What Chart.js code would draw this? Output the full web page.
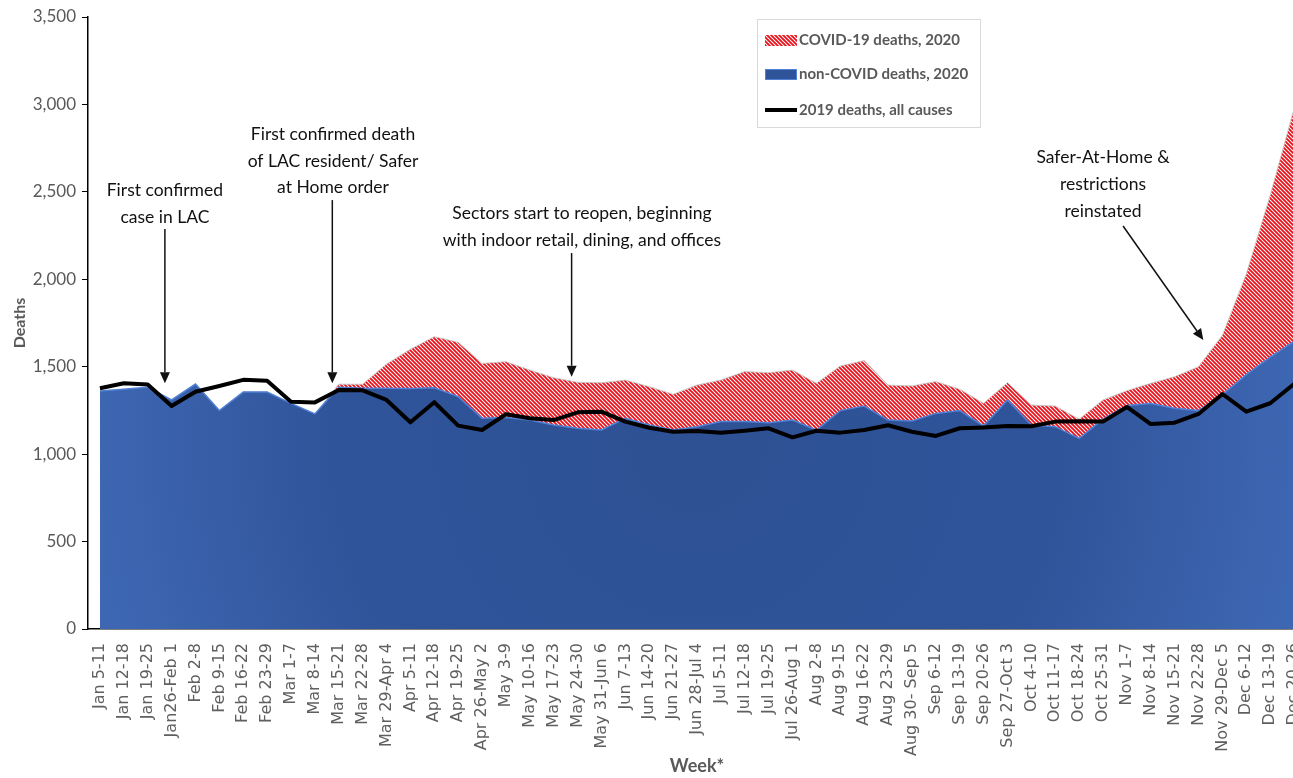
<!DOCTYPE html>
<html><head><meta charset="utf-8">
<script src="https://cdn.jsdelivr.net/npm/chart.js@4.4.0/dist/chart.umd.min.js"></script>
<style>
html,body{margin:0;padding:0;background:#fff;overflow:hidden;width:1293px;height:778px}
#wrap{position:relative;width:1310px;height:778px}
</style></head>
<body><div id="wrap"><canvas id="c" width="1310" height="778"></canvas></div>
<script>
const weeks = ['Jan 5-11','Jan 12-18','Jan 19-25','Jan26-Feb 1','Feb 2-8','Feb 9-15','Feb 16-22','Feb 23-29','Mar 1-7','Mar 8-14','Mar 15-21','Mar 22-28','Mar 29-Apr 4','Apr 5-11','Apr 12-18','Apr 19-25','Apr 26-May 2','May 3-9','May 10-16','May 17-23','May 24-30','May 31-Jun 6','Jun 7-13','Jun 14-20','Jun 21-27','Jun 28-Jul 4','Jul 5-11','Jul 12-18','Jul 19-25','Jul 26-Aug 1','Aug 2-8','Aug 9-15','Aug 16-22','Aug 23-29','Aug 30- Sep 5','Sep 6-12','Sep 13-19','Sep 20-26','Sep 27-Oct 3','Oct 4-10','Oct 11-17','Oct 18-24','Oct 25-31','Nov 1-7','Nov 8-14','Nov 15-21','Nov 22-28','Nov 29-Dec 5','Dec 6-12','Dec 13-19','Dec 20-26'];

const nonCovid2020 = [1361,1371,1382,1310,1401,1249,1355,1355,1290,1230,1382,1377,1377,1376,1380,1329,1205,1210,1195,1167,1148,1138,1205,1167,1138,1157,1186,1186,1180,1195,1138,1249,1275,1195,1190,1233,1249,1161,1310,1167,1157,1090,1200,1278,1290,1262,1249,1340,1455,1555,1645];

const covid2020 = [0,0,0,0,0,0,0,0,0,0,18,23,138,224,292,311,314,319,286,270,263,270,219,219,204,238,238,286,286,286,267,255,260,200,200,182,122,130,99,114,118,110,110,85,115,181,251,340,575,925,1330];

const deaths2019 = [1377,1405,1398,1275,1357,1390,1425,1420,1300,1296,1367,1365,1310,1182,1297,1163,1138,1228,1205,1195,1239,1243,1186,1151,1128,1132,1123,1134,1148,1096,1134,1123,1138,1165,1128,1104,1148,1153,1161,1160,1186,1188,1186,1270,1172,1180,1230,1344,1243,1291,1401];

const seriesLabels = ['non-COVID deaths, 2020','COVID-19 deaths, 2020','2019 deaths, all causes'];
const yMin = 0, yMax = 3500, yStep = 500;

// annotations anchored in data coordinates (category index, deaths value)
const notes = [
  {lines:['First confirmed','case in LAC'], at:2.72, vals:[2511,2356], arrow:[2.72,2288,2.72,1405]},
  {lines:['First confirmed death','of LAC resident/ Safer','at Home order'], at:9.76, vals:[2831,2676,2528], arrow:[9.73,2453,9.73,1405]},
  {lines:['Sectors start to reopen, beginning','with indoor retail, dining, and offices'], at:20.18, vals:[2379,2225], arrow:[19.75,2150,19.75,1443]},
  {lines:['Safer-At-Home &','restrictions','reinstated'], at:42.0, vals:[2699,2545,2391], arrow:[42.84,2305,46.2,1653]}
];

function makeHatch(){
  const c=document.createElement('canvas'); c.width=4; c.height=4;
  const g=c.getContext('2d');
  g.fillStyle='#fff'; g.fillRect(0,0,4,4);
  g.strokeStyle='#E8101A'; g.lineWidth=1.8;
  g.beginPath();
  for(const k of [-4,0,4]){ g.moveTo(k-1,-1); g.lineTo(k+5,5); }
  g.stroke();
  return g.createPattern(c,'repeat');
}
const hatch = makeHatch();

function blueFill(ctx){
  const ca=ctx.chart.chartArea;
  if(!ca) return '#30549A';
  const cx=(ca.left+ca.right)/2, cy=(ca.top+ca.bottom)/2+120;
  const g=ctx.chart.ctx.createRadialGradient(cx,cy,0,cx,cy,(ca.right-ca.left)/2);
  g.addColorStop(0,'#2E5194');
  g.addColorStop(0.6,'#30549A');
  g.addColorStop(1,'#3E67B3');
  return g;
}

const grey='#595959';

const annotPlugin={
  id:'annot',
  afterDraw(chart){
    const {ctx,scales:{x,y}}=chart;
    ctx.save();
    ctx.fillStyle='#111'; ctx.strokeStyle='#111';
    ctx.font='17.5px Lato';
    ctx.textAlign='center'; ctx.textBaseline='middle';
    for(const n of notes){
      const px=x.getPixelForValue(n.at);
      n.lines.forEach((t,i)=>ctx.fillText(t,px,y.getPixelForValue(n.vals[i])));
      const x1=x.getPixelForValue(n.arrow[0]), y1=y.getPixelForValue(n.arrow[1]);
      const x2=x.getPixelForValue(n.arrow[2]), y2=y.getPixelForValue(n.arrow[3]);
      const ang=Math.atan2(y2-y1,x2-x1), L=11, W=5;
      const bx=x2-L*Math.cos(ang), by=y2-L*Math.sin(ang);
      ctx.lineWidth=1.5;
      ctx.beginPath(); ctx.moveTo(x1,y1); ctx.lineTo(bx,by); ctx.stroke();
      ctx.beginPath(); ctx.moveTo(x2,y2);
      ctx.lineTo(bx+W*Math.sin(ang),by-W*Math.cos(ang));
      ctx.lineTo(bx-W*Math.sin(ang),by+W*Math.cos(ang));
      ctx.closePath(); ctx.fill();
    }
    // legend
    const lx=757, ly=19, lw=223, lh=108;
    ctx.fillStyle='#fff'; ctx.fillRect(lx,ly,lw,lh);
    ctx.strokeStyle='#D9D9D9'; ctx.lineWidth=1;
    ctx.strokeRect(lx+0.5,ly+0.5,lw,lh);
    const rows=[{t:seriesLabels[1],y:40,k:'h'},{t:seriesLabels[0],y:74,k:'b'},{t:seriesLabels[2],y:110,k:'l'}];
    ctx.font='bold 15px Lato'; ctx.textAlign='left'; ctx.textBaseline='middle';
    for(const r of rows){
      if(r.k==='h'){ ctx.fillStyle=hatch; ctx.fillRect(765,r.y-5,32,11); }
      else if(r.k==='b'){ ctx.fillStyle='#30549A'; ctx.fillRect(765,r.y-5,32,11); ctx.strokeStyle='#4F81D6'; ctx.lineWidth=1; ctx.strokeRect(765.5,r.y-4.5,31,10); }
      else { ctx.strokeStyle='#000'; ctx.lineWidth=4; ctx.beginPath(); ctx.moveTo(765,r.y); ctx.lineTo(797,r.y); ctx.stroke(); }
      ctx.fillStyle=grey; ctx.fillText(r.t,799,r.y);
    }
    ctx.restore();
  }
};

new Chart(document.getElementById('c'),{
  type:'line',
  data:{
    labels:weeks,
    datasets:[
      {label:seriesLabels[0], data:nonCovid2020, stack:'a', order:1, fill:'origin',
       backgroundColor:blueFill, borderColor:'#4F81D6', borderWidth:1.5, pointRadius:0, tension:0},
      {label:seriesLabels[1], data:covid2020, stack:'a', order:2, fill:'-1',
       backgroundColor:hatch, borderColor:'rgba(200,200,200,0.9)', borderWidth:1, pointRadius:0, tension:0},
      {label:seriesLabels[2], data:deaths2019, stack:'b', order:0, fill:false,
       borderColor:'#000', borderWidth:4, pointRadius:0, tension:0, borderJoinStyle:'round'}
    ]
  },
  options:{
    responsive:false, animation:false,
    layout:{padding:{top:17,right:4,left:0,bottom:0}},
    plugins:{legend:{display:false},tooltip:{enabled:false}},
    scales:{
      x:{
        offset:true,
        grid:{display:false,drawTicks:false},
        border:{display:true,color:'#000',width:1.5},
        ticks:{autoSkip:false,minRotation:90,maxRotation:90,padding:14,color:'#5f5f5f',font:{family:'DejaVu Sans',size:16}},
        title:{display:true,text:'Week*',color:grey,font:{family:'Lato',size:18,weight:'bold'},padding:{top:0,bottom:1}},
        afterFit(s){ s.height=149; s.paddingLeft=0; s.paddingRight=0; }
      },
      y:{
        stacked:true, min:yMin, max:yMax,
        grid:{drawOnChartArea:false,drawTicks:true,tickLength:6,color:'#000'},
        border:{display:true,color:'#000',width:1.5},
        ticks:{stepSize:yStep,padding:6,color:grey,font:{family:'Lato',size:17},callback:v=>v.toLocaleString('en-US')},
        title:{display:true,text:'Deaths',color:grey,font:{family:'Lato',size:16,weight:'bold'},padding:{top:10,bottom:0}},
        afterFit(s){ s.width=88; }
      }
    }
  },
  plugins:[annotPlugin]
});
</script>
</body></html>
